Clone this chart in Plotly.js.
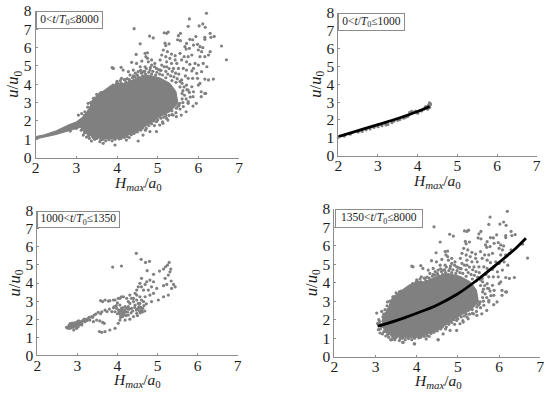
<!DOCTYPE html>
<html><head><meta charset="utf-8">
<script src="https://cdn.plot.ly/plotly-3.0.1.min.js"></script>
<style>html,body{margin:0;padding:0;background:#fff}#c{width:550px;height:396px}</style></head>
<body><div id="c"></div>
<script>
// outlying points shared by the full record and the late record
const cloudX=[6.2,5.78,5.75,4.42,6.02,6.11,6.17,5.16,5.22,5.26,4.8,4.89,5.56,5.51,5.49,5.56,4.57,5.18,5.2,5.28,5.79,5.86,5.94,6.16,6.16,6.29,6.31,6.39,6.57,6.69,5.67,5.71,5.7,5.78,5.88,5.98,6.04,6.11,6.0,6.08,6.29,6.25,6.16,6.04,5.14,5.24,5.34,5.43,5.1,5.2,5.3,5.43,5.55,5.65,5.75,5.84,5.06,5.22,5.34,5.47,5.59,5.71,5.79,5.92,5.88,6.0,6.12,6.21,6.08,5.96,5.84,5.71,5.63,5.51,5.39,5.22,5.1,4.47,4.69,4.75,4.71,4.75,4.85,4.77,4.61,4.48,4.36,4.57,4.69,4.85,4.93,4.97,5.06,4.81,4.65,4.52,4.4,4.28,4.44,4.32,4.1,4.15,3.88,4.11,4.2,3.99,5.75,5.86,5.98,6.16,6.25,6.37,5.59,5.71,5.84,6.04,6.0,6.16,5.88,5.75,5.75,5.87,5.63,5.46,5.38,5.22,5.05,4.81,4.52,3.95,3.66,3.37,3.58,4.23,3.17,3.91,6.07,6.18,6.07,5.58,5.7,5.87,5.95,5.54,5.46,5.38,5.13,4.97,4.72,4.97,4.64,5.13];
const cloudY=[7.86,7.55,7.15,7.02,7.17,7.28,7.1,6.8,6.77,6.84,6.62,6.52,6.77,6.64,6.42,6.37,6.2,6.23,6.1,6.2,6.44,6.42,6.59,6.55,6.44,6.77,6.55,6.6,6.08,5.33,6.04,6.22,5.91,5.95,6.13,6.17,6.04,5.99,5.86,5.77,5.77,5.59,5.5,5.5,5.86,5.77,5.64,5.55,5.59,5.5,5.41,5.32,5.68,5.5,5.5,5.59,5.32,5.22,5.13,5.13,5.32,5.22,5.08,5.13,4.86,5.04,5.13,4.95,4.68,4.59,4.72,4.77,4.86,4.86,4.86,4.95,5.04,5.62,5.68,5.71,5.5,5.41,5.32,5.22,5.26,5.13,5.19,4.95,4.95,5.04,5.13,4.86,4.77,4.77,4.68,4.68,4.77,4.68,4.41,4.5,4.92,4.77,4.9,4.32,4.23,4.04,4.32,4.32,4.32,4.28,4.23,4.28,4.23,3.95,3.86,4.04,3.95,3.5,3.59,3.68,2.96,3.32,2.78,2.23,2.32,2.14,1.78,1.42,0.91,0.69,0.78,0.91,0.87,0.96,1.23,4.86,3.59,3.5,3.32,2.32,2.5,2.81,2.96,2.96,2.69,3.14,2.41,1.96,1.6,1.42,1.23,1.87];
// fringe of the dense mass
const fringeX=[3.35,3.45,3.5,3.62,3.7,3.8,3.9,4.0,4.1,4.18,4.3,4.4,4.5,4.6,4.7,4.85,4.95,5.05,5.2,5.35,5.45,5.55,5.6,5.6,5.5,5.35,5.2,5.08,4.9,4.78,4.62,4.5,4.35,4.25,4.1,3.95,3.8,3.65,3.5,3.4,3.3,3.2,3.12,3.25,3.18,3.29,3.42,3.58,
 4.25,4.32,4.38,4.45,4.52,4.58,4.63,4.68,4.72,4.78,4.82,4.88,4.92,4.98,5.02,5.08,5.12,5.16,5.2,5.25,5.28,5.32,5.36,5.4,5.44,5.48,5.52,5.55,5.6,5.65,5.68,5.72,5.78,5.62,5.66,5.7,5.8,5.75,5.62,5.55,5.45,5.52,5.35,5.28,5.15,5.25,5.0,5.12,4.92,4.85,4.7,4.58,4.42,4.3,4.18,4.05,3.88,3.72,3.6,3.45,3.32,3.25,3.42,3.15,3.05,3.08,3.22,3.2,3.3,3.28,3.38,3.4,3.48,3.55,3.6,3.68,3.75,3.85,3.92,4.02,4.08,4.14,4.22];
const fringeY=[3.0,3.25,3.45,3.55,3.6,3.75,3.95,4.15,4.05,4.25,4.25,4.45,4.5,4.6,4.55,4.55,4.5,4.55,4.35,4.2,4.1,3.85,3.5,3.2,2.8,2.55,2.3,2.15,2.0,1.75,1.6,1.4,1.25,1.15,1.05,1.0,0.98,1.0,1.05,1.15,1.2,1.35,1.5,2.35,2.15,2.96,3.23,3.5,
 4.3,4.15,4.35,4.6,4.4,4.75,4.45,4.7,4.85,4.65,4.9,4.7,4.95,4.65,4.8,4.75,4.5,4.95,4.7,4.55,4.85,4.45,4.7,4.4,4.6,4.3,4.55,4.15,4.05,3.85,4.45,3.7,3.55,3.65,3.4,3.2,3.3,3.05,3.0,2.65,2.45,2.85,2.35,2.3,2.2,2.05,2.05,1.95,1.75,1.85,1.5,1.5,1.32,1.1,1.1,1.02,0.92,0.92,0.98,1.0,1.05,1.12,1.08,1.62,1.8,2.0,2.1,2.3,2.55,2.75,2.85,3.05,3.1,3.35,3.42,3.45,3.5,3.85,3.8,4.05,4.2,3.95,4.1];
// dense mass, full record
const massAX=[2,2.5,2.9,3.1,3.2,3.3,3.5,3.7,3.9,4.1,4.3,4.5,4.75,4.95,5.1,5.3,5.5,5.45,5.3,5.05,4.75,4.5,4.2,4.0,3.8,3.55,3.4,3.3,3.15,3.0,2.8,2.5,2.2,2];
const massAY=[1.02,1.26,1.52,1.65,1.38,1.22,1.08,1.02,1.02,1.08,1.25,1.42,1.78,2.08,2.28,2.5,2.95,3.6,4.05,4.35,4.5,4.35,4.05,4.05,3.85,3.45,3.15,2.6,2.2,1.95,1.78,1.46,1.24,1.15];
// dense mass, late record
const massDX=[3.2,3.3,3.5,3.7,3.9,4.1,4.3,4.5,4.75,4.95,5.1,5.3,5.5,5.45,5.3,5.05,4.75,4.5,4.2,4.0,3.8,3.55,3.4,3.3,3.2,3.15];
const massDY=[1.38,1.22,1.08,1.02,1.02,1.08,1.25,1.42,1.78,2.08,2.28,2.5,2.95,3.6,4.05,4.35,4.5,4.35,4.05,4.05,3.85,3.45,3.15,2.6,2.2,1.9];
const lateLeftX=[3.03,3.23,3.15,3.07,3.11,3.39,3.47,3.67,3.94,4.52,3.27,3.19,3.12,3.1];
const lateLeftY=[2.36,2.54,2.45,1.46,1.28,0.92,0.92,0.77,0.7,0.92,1.46,1.64,1.75,1.9];
const earlyLeftX=[3.05,3.21,3.13,3.0,2.95,2.85];
const earlyLeftY=[2.32,2.5,2.4,1.6,1.7,1.45];
// early record
const earlyX=[2.0,2.15,2.3,2.5,2.7,2.9,3.1,3.25,3.4,3.55,3.7,3.8,3.9,4.0,4.05,4.1,4.15,4.2,4.25,4.28,4.3,4.3,4.32,4.25,2.6,2.8,3.0,3.2,3.35,3.5,3.65,3.75,3.85,3.95,4.2,4.3,4.32];
const earlyY=[1.02,1.1,1.2,1.32,1.45,1.58,1.68,1.75,1.93,2.02,2.15,2.42,2.42,2.38,2.52,2.5,2.6,2.68,2.75,2.85,2.95,2.7,2.85,2.6,1.36,1.5,1.62,1.72,1.85,1.98,2.1,2.2,2.48,2.5,2.75,2.82,2.92];
const fitEarlyX=[2,2.5,3,3.5,4,4.3];
const fitEarlyY=[1.07,1.4,1.74,2.08,2.47,2.75];
// intermediate record
const midX=[4.47,4.59,4.7,4.8,3.88,4.1,4.74,5.29,5.25,5.2,5.15,5.05,5.33,5.31,5.27,4.9,4.6,4.81,4.9,5.19,4.73,4.69,4.56,4.6,4.52,4.65,4.48,4.44,4.85,4.98,5.15,5.23,5.34,5.4,5.44,5.35,4.77,4.9,5.02,5.15,5.27,4.81,4.69,4.56,4.85,4.4,4.31,4.48,4.65,4.52,4.27,4.1,4.02,3.9,3.77,3.63,2.73,2.8,2.81,2.86,2.9,2.94,2.98,2.91,3.02,2.98,3.07,3.11,3.15,3.21,3.27,3.36,3.42,3.52,3.61,3.69,3.8,3.9,3.98,4.06,4.11,3.94,4.05,4.15,4.19,4.23,4.13,4.06,4.02,3.94,3.81,3.69,3.55,3.61,3.4,3.48,3.56,3.63,3.67,3.31,3.19,3.11,3.58,3.69,3.81,3.94,4.06,4.15,4.23,4.35,4.4,4.31,4.27,4.35,4.44,4.52,4.56,4.6,4.48,4.27,4.19,4.31,4.4,4.48,4.6,2.78,2.84,2.88,2.92,2.96,3.0,3.04,3.08,2.76,2.83,2.97,3.05,4.0,4.04,4.08,4.12,4.17,4.03,4.1,4.14,4.2,4.22,4.08,4.55,4.58,4.62,4.66,4.5,4.54,
 2.82,2.87,2.93,2.99,3.03,3.13,3.17,3.24,3.3,3.38,3.46,3.58,3.74,3.86,3.92,3.97,4.0,4.07,4.13,4.18,4.25,4.29,4.34,4.38,4.43,4.47,4.5,4.57,4.63,4.68,4.72];
const midY=[5.64,5.31,5.14,5.2,4.88,4.94,4.68,5.14,4.99,4.9,4.77,4.66,4.77,4.62,4.44,4.48,4.26,4.16,4.07,4.26,4.07,3.92,3.98,3.79,3.79,3.61,3.61,3.43,3.79,3.7,3.85,3.92,4.11,3.92,3.79,3.7,3.61,3.43,3.06,3.24,3.33,3.33,3.24,3.24,2.97,3.15,3.33,3.33,2.97,2.87,2.97,3.24,3.15,3.06,3.0,2.97,1.55,1.67,1.49,1.62,1.55,1.68,1.77,1.4,1.58,1.49,1.86,1.77,1.95,1.99,2.04,2.14,2.23,2.38,2.41,2.5,2.56,2.63,2.6,2.78,2.5,2.41,2.32,2.41,2.69,2.6,2.14,1.95,1.77,1.49,1.4,1.31,1.31,1.27,1.86,1.95,1.9,1.82,1.77,1.95,1.86,1.68,3.02,3.06,3.02,3.06,3.15,3.24,3.15,3.15,2.97,2.87,2.69,2.6,2.78,2.6,2.87,3.06,3.06,2.23,1.95,2.0,2.14,2.32,2.5,1.6,1.52,1.7,1.62,1.72,1.66,1.8,1.72,1.5,1.58,1.6,1.7,2.3,2.45,2.2,2.35,2.25,2.5,2.6,2.3,2.4,2.2,2.1,2.45,2.65,2.4,2.75,2.55,2.7,
 1.75,1.78,1.8,1.85,1.9,1.9,2.0,1.93,2.1,2.1,2.28,2.3,2.42,2.42,2.7,2.75,2.9,2.45,2.62,2.5,2.4,2.55,2.35,2.45,2.65,2.5,2.2,2.35,2.6,2.45,2.85];
// fitted curve, late record
const fitLateX=[3.05,3.5,4,4.5,5,5.5,6,6.4,6.65];
const fitLateY=[1.65,1.95,2.35,2.8,3.4,4.2,5.1,5.85,6.4];

const GREY='#808080', INK='#1c1c1c', AXIS='#8c8c8c', SERIF='Liberation Serif';
const panels=[
 {box:[35.7,239,10.7,157.7],leg:[35.7,103,10.7,29],xt:[137.5,183],text:'0<<i>t</i>/<i>T</i><sub>0</sub>≤8000'},
 {box:[338.3,536.7,12.7,155.7],leg:[338.3,405.3,12.7,30.7],xt:[437,181],text:'0<<i>t</i>/<i>T</i><sub>0</sub>≤1000'},
 {box:[37.3,237.7,210.7,355.3],leg:[37.3,120,210.7,228],xt:[137,380],text:'1000<<i>t</i>/<i>T</i><sub>0</sub>≤1350'},
 {box:[334.3,540.3,208.7,356.7],leg:[335,422.7,208.7,227.3],xt:[437.5,381],text:'1350<<i>t</i>/<i>T</i><sub>0</sub>≤8000'}
];
const W=550,H=396;
const layout={width:W,height:H,margin:{l:0,r:0,t:0,b:0,pad:0},paper_bgcolor:'#fff',plot_bgcolor:'#fff',showlegend:false,
  font:{family:SERIF,color:INK,size:15},annotations:[]};
panels.forEach((p,i)=>{
  const s=i?String(i+1):'';
  layout['xaxis'+s]={domain:[p.box[0]/W,p.box[1]/W],range:[2,7],anchor:'y'+s,tickvals:[2,3,4,5,6,7],ticks:'inside',ticklen:2,tickcolor:AXIS,ticklabelstandoff:-4,
    showline:true,linecolor:AXIS,linewidth:1,showgrid:false,zeroline:false,tickfont:{family:SERIF,size:15.5,color:INK}};
  layout['yaxis'+s]={domain:[1-p.box[3]/H,1-p.box[2]/H],range:[0,8],anchor:'x'+s,tickvals:[0,1,2,3,4,5,6,7,8],ticks:'inside',ticklen:2,tickcolor:AXIS,
    showline:true,linecolor:AXIS,linewidth:1,showgrid:false,zeroline:false,tickfont:{family:SERIF,size:15.5,color:INK},
    title:{text:'<i>u</i>/<i>u</i><sub>0</sub>',font:{family:SERIF,size:16.5,color:INK},standoff:0}};
  layout.annotations.push({xref:'paper',yref:'paper',xanchor:'center',yanchor:'middle',x:p.xt[0]/W,y:1-p.xt[1]/H,showarrow:false,
    text:'<i>H<sub>max</sub></i>/<i>a</i><sub>0</sub>',font:{family:SERIF,size:15.5,color:INK}});
  layout.annotations.push({xref:'paper',yref:'paper',xanchor:'left',yanchor:'top',x:p.leg[0]/W,y:1-p.leg[2]/H,
    width:p.leg[1]-p.leg[0]-2,height:p.leg[3]-p.leg[2]-2,borderpad:0,borderwidth:1,bordercolor:'#8c8c8c',bgcolor:'#fff',
    showarrow:false,align:'center',valign:'middle',text:p.text,font:{family:SERIF,size:11.5,color:INK}});
});
const dots=(x,y,a)=>({type:'scatter',mode:'markers',x,y,xaxis:'x'+a,yaxis:'y'+a,cliponaxis:false,marker:{size:3.2,color:GREY},hoverinfo:'skip'});
const mass=(x,y,a)=>({type:'scatter',mode:'lines',x,y,xaxis:'x'+a,yaxis:'y'+a,fill:'toself',fillcolor:GREY,cliponaxis:false,line:{color:GREY,width:1},hoverinfo:'skip'});
const fit=(x,y,a)=>({type:'scatter',mode:'lines',x,y,xaxis:'x'+a,yaxis:'y'+a,line:{color:'#000',width:2.8,shape:'spline'},hoverinfo:'skip'});
const data=[
 mass(massAX,massAY,''),dots(cloudX,cloudY,''),dots(fringeX,fringeY,''),dots(earlyLeftX,earlyLeftY,''),
 dots(earlyX,earlyY,'2'),fit(fitEarlyX,fitEarlyY,'2'),
 dots(midX,midY,'3'),
 mass(massDX,massDY,'4'),dots(cloudX,cloudY,'4'),dots(fringeX,fringeY,'4'),dots(lateLeftX,lateLeftY,'4'),fit(fitLateX,fitLateY,'4')
];
Plotly.newPlot('c',data,layout,{displayModeBar:false,staticPlot:true});
</script></body></html>
